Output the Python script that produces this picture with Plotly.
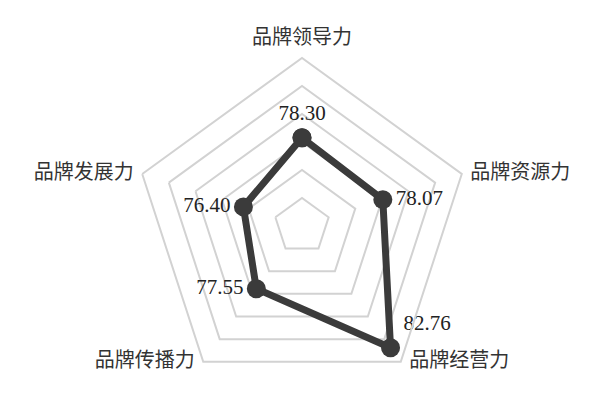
import plotly.graph_objects as go

# brand dimensions, clockwise from the top
dimensions = ["品牌领导力", "品牌资源力", "品牌经营力", "品牌传播力", "品牌发展力"]
scores = [78.30, 78.07, 82.76, 77.55, 76.40]
score_pos = ["top center", "middle right", "top right", "middle left", "middle left"]
name_pos = ["top center", "middle right", "middle right", "middle left", "middle left"]
r_max = 84

theta = dimensions + dimensions[:1]
r = scores + scores[:1]
text = [f"{v:.2f}" for v in scores] + [""]

fig = go.Figure()
fig.add_trace(go.Scatterpolar(
    r=r, theta=theta, mode="lines+markers+text",
    line=dict(color="#3b3b3b", width=7),
    marker=dict(color="#3b3b3b", size=19),
    text=text, textposition=score_pos + ["top center"],
    textfont=dict(family="Liberation Serif, Times New Roman, serif", size=21, color="#222222"),
    cliponaxis=False, showlegend=False,
))
# dimension names sit beside the outer ring's corners
fig.add_trace(go.Scatterpolar(
    r=[r_max] * len(dimensions), theta=dimensions, mode="markers+text",
    marker=dict(size=12, opacity=0),
    text=dimensions, textposition=name_pos,
    textfont=dict(family="Noto Sans CJK SC", size=20, color="#333333"),
    cliponaxis=False, showlegend=False, hoverinfo="skip",
))

fig.update_layout(
    width=600, height=410,
    margin=dict(l=0, r=0, t=0, b=0),
    paper_bgcolor="white",
    font=dict(family="Liberation Serif, Noto Sans CJK SC, serif", color="#333333"),
    polar=dict(
        domain=dict(x=[0.21, 0.77], y=[0.0585, 0.8785]),
        gridshape="linear",
        bgcolor="white",
        radialaxis=dict(range=[72, r_max], tick0=72, dtick=2, showticklabels=False,
                        ticks="", showline=False, gridcolor="#d2d2d2", gridwidth=2),
        angularaxis=dict(rotation=90, direction="clockwise", showgrid=False,
                         linecolor="#d2d2d2", linewidth=2, ticks="", showticklabels=False),
    ),
)

fig.write_html("out.html")
